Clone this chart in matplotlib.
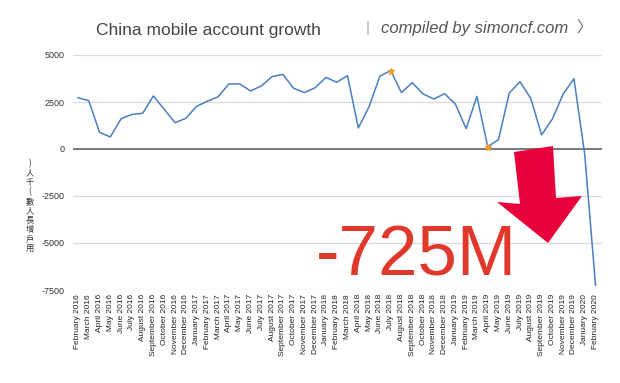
#--------------------------------------------------------------------------------
# China mobile account growth (monthly net adds, thousands)
import numpy as np
import pandas as pd
import matplotlib.pyplot as plt
import matplotlib.patches as patches
#--------------------------------------------------------------------------------
# Data
meses = list(pd.date_range('2016-02-01', periods=49, freq='MS').strftime('%B %Y'))
crescimento = [2730, 2570, 890, 640, 1610, 1840, 1900, 2820, 2110, 1400,
               1630, 2270, 2540, 2780, 3460, 3460, 3090, 3350, 3850, 3970,
               3230, 3000, 3260, 3810, 3550, 3900, 1120, 2250, 3880, 4170,
               3000, 3530, 2930, 2660, 2940, 2390, 1080, 2800, 120, 500,
               2980, 3580, 2680, 750, 1600, 2930, 3740, -300, -7250]
destaques = [29, 38]   # pontos marcados com estrela
yticks = [-7500, -5000, -2500, 0, 2500, 5000]
ylabel_chars = ['用', '戶', '增', '長', '人', '數', '(', '千', '人', ')']
#--------------------------------------------------------------------------------
plt.rcParams['font.family'] = ['Liberation Sans', 'DejaVu Sans']
W, H = 620, 383
fig = plt.figure(figsize=(W/100, H/100), dpi=100)
fig.patch.set_facecolor('white')
ax = fig.add_axes([73/W, 1-290/H, (602-73)/W, (290-55)/H])

x = np.arange(len(crescimento))
ax.plot(x, crescimento, color='#4a7fc0', lw=1.1, zorder=3)
ax.plot(x[destaques], np.array(crescimento)[destaques], '*', color='#f0a030',
        ms=4.5, zorder=4)

ax.set_xlim(-0.46, 48.6)
ax.set_ylim(-7500, 5000)
ax.set_yticks(yticks)
ax.set_yticklabels([str(v) for v in yticks])
for v in yticks:
    if v == 0:
        ax.axhline(v, color='#555555', lw=1.1, zorder=2)
    else:
        ax.axhline(v, color='#dadada', lw=0.9, zorder=1)
ax.set_xticks(x)
ax.set_xticklabels(meses, rotation=90, fontsize=6, color='#222222', va='top', ha='center')
ax.tick_params(axis='y', labelsize=6.5, colors='#333333', length=0, pad=6)
ax.tick_params(axis='x', length=0, pad=3)
for s in ax.spines.values():
    s.set_visible(False)

# Titulo
fig.text(96/W, 1-31/H, 'China mobile account growth', fontsize=12.5, color='#444444',
         va='center', ha='left')
fig.text(366/W, 1-28/H, '|', fontsize=11, color='#aaaaaa', va='center', ha='left')
fig.text(381/W, 1-28/H, 'compiled by simoncf.com', fontsize=12, style='italic',
         color='#555555', va='center', ha='left')
fig.text(576/W, 1-28/H, '〉', fontsize=11, color='#666666', va='center', ha='left',
         family=['Noto Sans CJK TC', 'DejaVu Sans'])

# Eixo y (texto vertical)
fig.text(30/W, 1-206/H, '\n'.join(ylabel_chars[::-1]), fontsize=6, color='#333333',
         ha='center', va='center', linespacing=1.05,
         family=['Noto Sans CJK TC', 'DejaVu Sans'])

# Seta vermelha
seta = [(514, 152), (553, 146), (556, 198), (582, 196), (548, 243),
        (497, 202), (520, 204)]
seta = [(px/W, 1-py/H) for px, py in seta]
fig.patches.append(patches.Polygon(seta, closed=True, transform=fig.transFigure,
                                   facecolor='#e8003a', edgecolor='none', zorder=5))

fig.text(416/W, 1-276/H, '-725M', fontsize=51, color='#e0392b', ha='center',
         va='baseline', zorder=6)

fig.savefig('out.png', dpi=100)
plt.close()
